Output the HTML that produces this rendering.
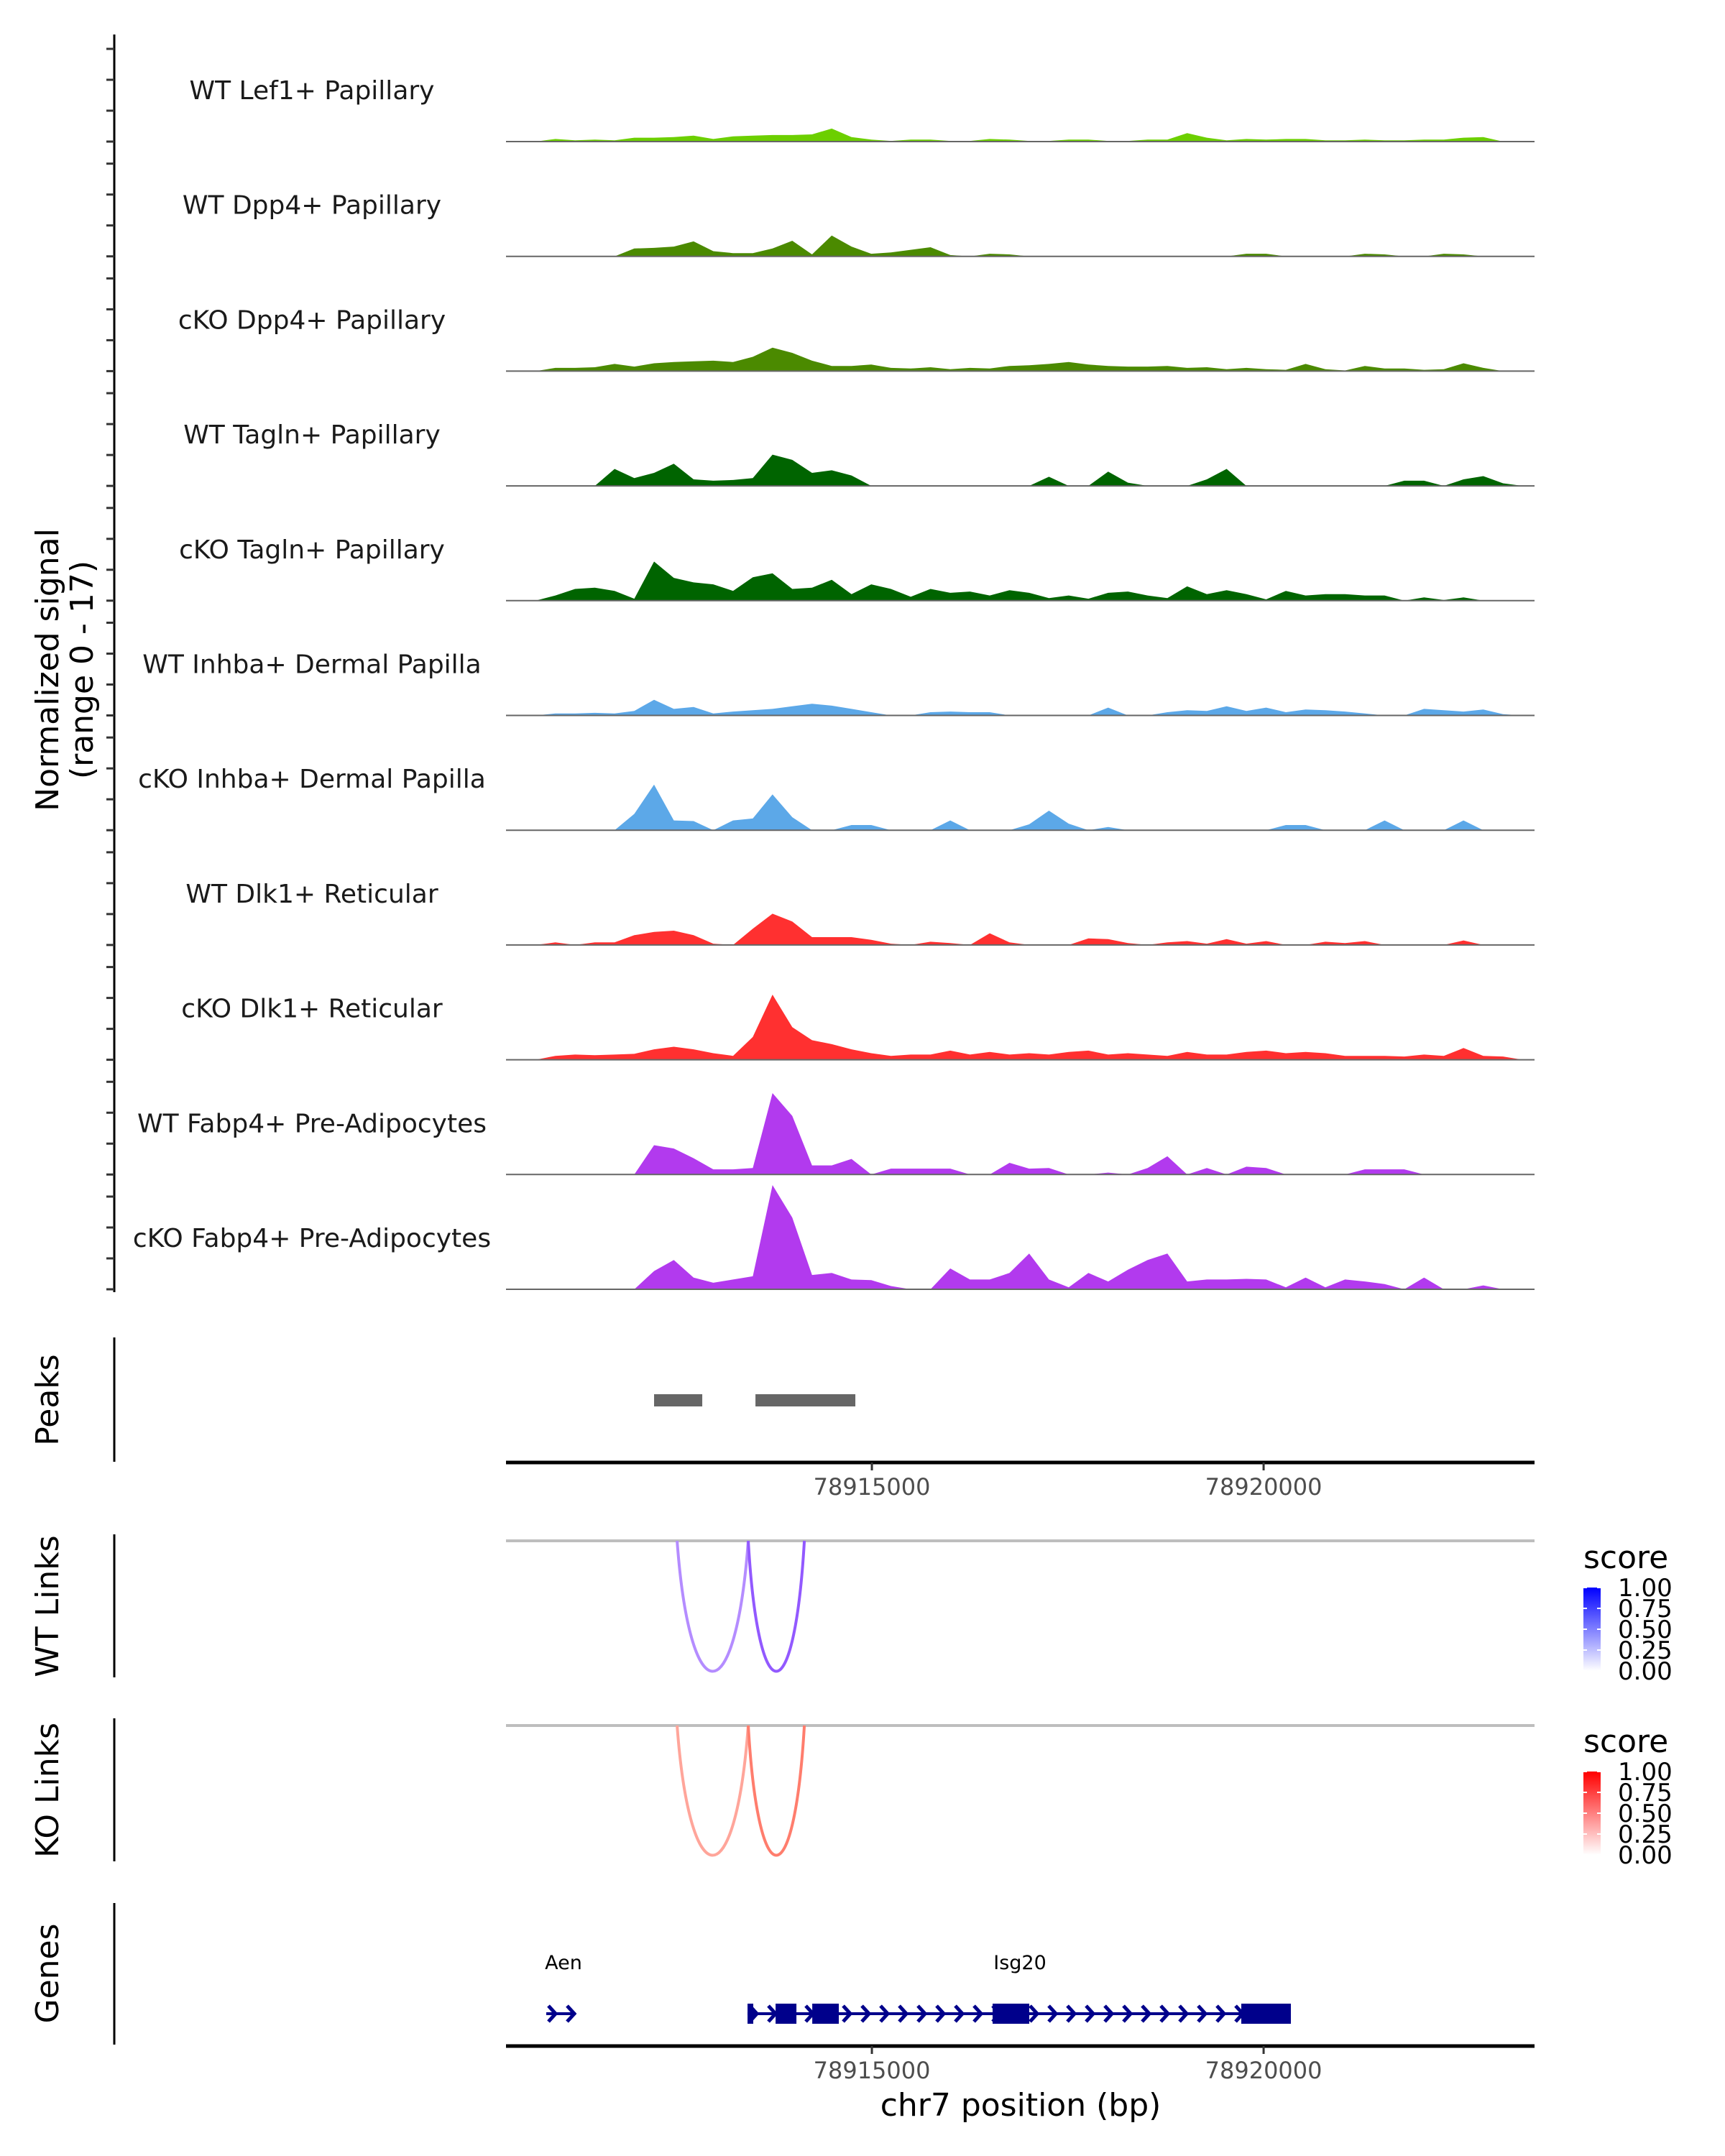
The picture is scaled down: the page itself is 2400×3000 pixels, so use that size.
<!DOCTYPE html>
<html><head><meta charset="utf-8"><style>
html,body{margin:0;padding:0;background:#fff;}
svg{display:block;font-family:"DejaVu Sans","Liberation Sans",sans-serif;}
</style></head><body>
<svg id="chart" width="2400" height="3000" viewBox="0 0 2400 3000" xmlns="http://www.w3.org/2000/svg">
<defs>
<linearGradient id="gradWT" x1="0" y1="1" x2="0" y2="0"><stop offset="0" stop-color="#ffffff"/><stop offset="1" stop-color="#0000ff"/></linearGradient>
<linearGradient id="gradKO" x1="0" y1="1" x2="0" y2="0"><stop offset="0" stop-color="#ffffff"/><stop offset="1" stop-color="#ff0000"/></linearGradient>
</defs>
</svg>
<script>
// ---- data ----
const trackNames = ["WT Lef1+ Papillary","WT Dpp4+ Papillary","cKO Dpp4+ Papillary","WT Tagln+ Papillary","cKO Tagln+ Papillary","WT Inhba+ Dermal Papilla","cKO Inhba+ Dermal Papilla","WT Dlk1+ Reticular","cKO Dlk1+ Reticular","WT Fabp4+ Pre-Adipocytes","cKO Fabp4+ Pre-Adipocytes"];
const trackColors = ["#6ccf00","#4b8a00","#4b8a00","#006400","#006400","#5ca8e8","#5ca8e8","#ff3030","#ff3030","#b23aee","#b23aee"];
const binStart = 78910330;
const binSize = 252;
const sigLef1WT = [0,0,0.4,0.2,0.3,0.2,0.6,0.6,0.7,0.9,0.4,0.8,0.9,1.0,1.0,1.1,2.0,0.7,0.3,0.1,0.3,0.3,0.1,0.1,0.4,0.3,0.1,0.1,0.3,0.3,0.1,0.1,0.3,0.3,1.3,0.6,0.2,0.4,0.3,0.4,0.4,0.2,0.2,0.3,0.2,0.2,0.3,0.3,0.6,0.7,0,0];
const sigDpp4WT = [0,0,0,0,0,0,1.2,1.3,1.5,2.3,0.8,0.5,0.5,1.2,2.4,0.3,3.2,1.5,0.4,0.6,1.0,1.4,0.2,0,0.4,0.3,0,0,0,0,0,0,0,0,0,0,0,0.4,0.4,0,0,0,0,0.4,0.3,0,0,0.4,0.3,0,0,0];
const sigDpp4KO = [0,0,0.5,0.5,0.6,1.1,0.7,1.2,1.4,1.5,1.6,1.4,2.2,3.6,2.8,1.6,0.8,0.8,1.0,0.5,0.4,0.6,0.3,0.5,0.4,0.8,0.9,1.1,1.4,1.0,0.8,0.7,0.7,0.8,0.5,0.6,0.3,0.5,0.3,0.2,1.1,0.3,0.1,0.8,0.4,0.4,0.2,0.3,1.2,0.5,0,0];
const sigTaglnWT = [0,0,0,0,0,2.6,1.2,2.0,3.4,1.0,0.8,0.9,1.2,4.8,4.0,2.0,2.4,1.6,0,0,0,0,0,0,0,0,0,1.4,0,0,2.2,0.5,0,0,0,1.0,2.6,0,0,0,0,0,0,0,0,0.8,0.8,0,1.0,1.5,0.4,0];
const sigTaglnKO = [0,0,0.8,1.8,2.0,1.5,0.3,6.0,3.5,2.8,2.5,1.5,3.6,4.2,1.8,2.0,3.2,1.0,2.5,1.8,0.6,1.8,1.2,1.4,0.8,1.6,1.2,0.4,0.8,0.3,1.2,1.4,0.8,0.4,2.2,1.0,1.6,1.0,0.2,1.5,0.8,1.0,1.0,0.8,0.8,0,0.5,0.1,0.5,0,0,0];
const sigInhbaWT = [0,0,0.3,0.3,0.4,0.3,0.7,2.4,1.0,1.3,0.3,0.6,0.8,1.0,1.4,1.8,1.5,1.0,0.5,0,0,0.5,0.6,0.5,0.5,0,0,0,0,0,1.2,0,0,0.5,0.8,0.7,1.4,0.7,1.2,0.5,0.9,0.8,0.6,0.3,0,0,1.0,0.8,0.6,0.9,0.2,0];
const sigInhbaKO = [0,0,0,0,0,0,2.5,7.0,1.5,1.4,0,1.5,1.8,5.5,2.0,0,0,0.8,0.8,0,0,0,1.5,0,0,0,0.9,3.0,1.0,0,0.5,0,0,0,0,0,0,0,0,0.8,0.8,0,0,0,1.5,0,0,0,1.5,0,0,0];
const sigDlk1WT = [0,0,0.4,0,0.4,0.4,1.5,2.0,2.2,1.5,0.2,0,2.5,4.8,3.6,1.2,1.2,1.2,0.8,0.2,0,0.5,0.3,0,1.8,0.4,0,0,0,1.0,0.9,0.3,0,0.4,0.6,0.2,0.9,0.2,0.6,0,0,0.5,0.3,0.6,0,0,0,0,0.7,0,0,0];
const sigDlk1KO = [0,0,0.6,0.8,0.7,0.8,0.9,1.6,2.0,1.6,1.0,0.6,3.5,10.0,5.0,3.0,2.4,1.6,1.0,0.6,0.8,0.8,1.4,0.8,1.2,0.8,1.0,0.8,1.2,1.4,0.8,1.0,0.8,0.6,1.2,0.8,0.8,1.2,1.4,1.0,1.2,1.0,0.6,0.6,0.6,0.5,0.8,0.6,1.8,0.6,0.5,0];
const sigFabp4WT = [0,0,0,0,0,0,0,4.5,4.0,2.5,0.8,0.8,1.0,12.5,9.0,1.4,1.4,2.4,0,0.9,0.9,0.9,0.9,0,0,1.8,0.9,1.0,0,0,0.3,0,1.0,2.8,0,1.0,0,1.2,1.0,0,0,0,0,0.8,0.8,0.8,0,0,0,0,0,0];
const sigFabp4KO = [0,0,0,0,0,0,0,2.8,4.5,1.8,1.0,1.5,2.0,16.0,11.0,2.2,2.5,1.5,1.4,0.5,0,0,3.2,1.5,1.5,2.5,5.5,1.5,0.3,2.5,1.2,3.0,4.5,5.5,1.2,1.5,1.5,1.6,1.5,0.3,1.8,0.3,1.5,1.2,0.8,0,1.8,0,0,0.6,0,0];
const signals = [sigLef1WT,sigDpp4WT,sigDpp4KO,sigTaglnWT,sigTaglnKO,sigInhbaWT,sigInhbaKO,sigDlk1WT,sigDlk1KO,sigFabp4WT,sigFabp4KO];
const peakStarts = [78912220, 78913514];
const peakEnds = [78912835, 78914789];
const linkStarts = [78912514, 78913422];
const linkEnds = [78913422, 78914138];
const linkScores = [0.45, 0.65];
const xTicks = [78915000, 78920000];
const legendTicks = ["1.00","0.75","0.50","0.25","0.00"];
const genes = ["Aen","Isg20"];
const geneStarts = [78910844, 78913413];
const geneEnds = [78911220, 78920348];
const exonStarts = [[],[78913413,78913771,78914239,78916541,78919715]];
const exonEnds = [[],[78913486,78914037,78914578,78917009,78920348]];

// ---- scales ----
const X0 = 704, X1 = 2135, BP0 = 78910330, BP1 = 78923458;
const xs = bp => X0 + (bp - BP0) / (BP1 - BP0) * (X1 - X0);
const baseY = i => 197 + i * 159.7;
const PXU = 9.06;
const svg = document.getElementById('chart');
const NS = 'http://www.w3.org/2000/svg';
function mk(tag, attrs, parent) {
  const e = document.createElementNS(NS, tag);
  for (const k in attrs) e.setAttribute(k, attrs[k]);
  (parent || svg).appendChild(e);
  return e;
}

let el = mk('line', {x1:159, y1:48, x2:159, y2:1798, stroke:'#000', 'stroke-width':3});


for (let i = 0; i < trackNames.length; i++) {
  for (let k = 0; k < 4; k++) {
    const y = baseY(i) - k * 43;
    const t = mk('line', {x1:148, y1:y, x2:159, y2:y, stroke:'#333', 'stroke-width':3});
    
    
  }
}
el = mk('text', {x:0, y:0, 'font-size':44, 'text-anchor':'middle', transform:'translate(81,932) rotate(-90)'});
el.textContent = 'Normalized signal';


el = mk('text', {x:0, y:0, 'font-size':44, 'text-anchor':'middle', transform:'translate(129,932) rotate(-90)'});
el.textContent = '(range 0 - 17)';



signals.forEach((sig, i) => {
  const by = baseY(i);
  const g = mk('g', {});
  
  
  let d = 'M' + X0 + ' ' + by;
  sig.forEach((v, j) => {
    const xa = Math.min(xs(binStart + j * binSize), X1);
    const xb = Math.min(xs(binStart + (j + 1) * binSize), X1);
    const xm = (xa + xb) / 2;
    d += ' L' + xm.toFixed(1) + ' ' + (by - v * PXU).toFixed(1);
  });
  d += ' L' + X1 + ' ' + by + ' Z';
  const p = mk('path', {d:d, fill:trackColors[i]}, g);
  
  
  const bl = mk('line', {x1:X0, y1:by, x2:X1, y2:by, stroke:'#666', 'stroke-width':2}, g);
  
  
  const lbl = mk('text', {x:434, y:by - 71 + 12, 'font-size':36, 'text-anchor':'middle', fill:'#1a1a1a'}, g);
  lbl.textContent = trackNames[i];
  
  
});

function panelAxis(y1, y2, title, cy, name) {
  let a = mk('line', {x1:159, y1:y1, x2:159, y2:y2, stroke:'#000', 'stroke-width':3});
  
  
  let t = mk('text', {x:0, y:0, 'font-size':44, 'text-anchor':'middle', transform:'translate(81,' + cy + ') rotate(-90)'});
  t.textContent = title;
  
  
}
function xAxis(y, name) {
  let a = mk('line', {x1:X0, y1:y, x2:X1, y2:y, stroke:'#000', 'stroke-width':5});
  
  
  xTicks.forEach(v => {
    const x = xs(v);
    let t = mk('line', {x1:x, y1:y, x2:x, y2:y + 11, stroke:'#333', 'stroke-width':3});
    
    
    let l = mk('text', {x:x, y:y + 45, 'font-size':32, 'text-anchor':'middle', fill:'#4d4d4d'});
    l.textContent = String(v);
    
    
  });
}

panelAxis(1861, 2034, 'Peaks', 1948, 'peaks');
peakStarts.forEach((s, i) => {
  const r = mk('rect', {x:xs(s), y:1940, width:xs(peakEnds[i]) - xs(s), height:17, fill:'#666666'});
  
  
});
xAxis(2035, 'peaks-x-axis');

function linkPanel(top, lineY, bottomY, title, name, c0, c1, grad) {
  panelAxis(top, top + 199, title, top + 100, name);
  let gl = mk('line', {x1:X0, y1:lineY, x2:X1, y2:lineY, stroke:'#bebebe', 'stroke-width':4});
  
  
  linkStarts.forEach((s, i) => {
    const xa = xs(s), xb = xs(linkEnds[i]);
    const w = xb - xa, h = bottomY - lineY;
    const sc = linkScores[i];
    const col = 'rgb(' + Math.round(c0[0] + (c1[0] - c0[0]) * sc) + ',' + Math.round(c0[1] + (c1[1] - c0[1]) * sc) + ',' + Math.round(c0[2] + (c1[2] - c0[2]) * sc) + ')';
    const d = 'M' + xa + ' ' + lineY + ' C' + (xa + w * 0.18) + ' ' + (lineY + h * 1.33) + ' ' + (xb - w * 0.18) + ' ' + (lineY + h * 1.33) + ' ' + xb + ' ' + lineY;
    const p = mk('path', {d:d, fill:'none', stroke:col, 'stroke-width':4});
    
    
  });
  const ly = top + 32;
  let st = mk('text', {x:2203, y:ly + 15, 'font-size':44});
  st.textContent = 'score';
  
  
  const barTop = ly + 42, barH = 116;
  let bar = mk('rect', {x:2203, y:barTop, width:24, height:barH, fill:'url(#' + grad + ')'});
  
  
  legendTicks.forEach((t, k) => {
    const y = barTop + k * barH / (legendTicks.length - 1);
    let tk = mk('line', {x1:2203, y1:y, x2:2208, y2:y, stroke:'#fff', 'stroke-width':2});
    
    
    let tk2 = mk('line', {x1:2222, y1:y, x2:2227, y2:y, stroke:'#fff', 'stroke-width':2});
    
    
    let tl = mk('text', {x:2251, y:y + 12, 'font-size':34});
    tl.textContent = t;
    
    
  });
}
linkPanel(2135, 2144, 2326, 'WT Links', 'wt-links', [255,255,255], [88,0,255], 'gradWT');
linkPanel(2391, 2401, 2582, 'KO Links', 'ko-links', [255,255,255], [255,55,30], 'gradKO');

panelAxis(2648, 2845, 'Genes', 2746, 'genes');
const GY = 2802, NAVY = '#00008b';
genes.forEach((gname, i) => {
  const g = mk('g', {});
  
  
  const xa = xs(geneStarts[i]), xb = xs(geneEnds[i]);
  const ln = mk('line', {x1:xa, y1:GY, x2:xb, y2:GY, stroke:NAVY, 'stroke-width':4}, g);
  
  
  for (let x = xa + 8; x < xb - 3; x += 26) {
    const ch = mk('path', {d:'M' + (x - 5) + ' ' + (GY - 11) + ' L' + (x + 5) + ' ' + GY + ' L' + (x - 5) + ' ' + (GY + 11), fill:'none', stroke:NAVY, 'stroke-width':5}, g);
    
    
  }
  exonStarts[i].forEach((s, k) => {
    const ex = mk('rect', {x:xs(s), y:GY - 14, width:Math.max(4, xs(exonEnds[i][k]) - xs(s)), height:28, fill:NAVY}, g);
    
    
  });
  const lbl = mk('text', {x:(i === 0 ? 784 : 1419), y:2740, 'font-size':27, 'text-anchor':'middle'}, g);
  lbl.textContent = gname;
  
  
});
xAxis(2847, 'genes-x-axis');
el = mk('text', {x:1420, y:2944, 'font-size':44, 'text-anchor':'middle'});
el.textContent = 'chr7 position (bp)';


</script>
</body></html>
